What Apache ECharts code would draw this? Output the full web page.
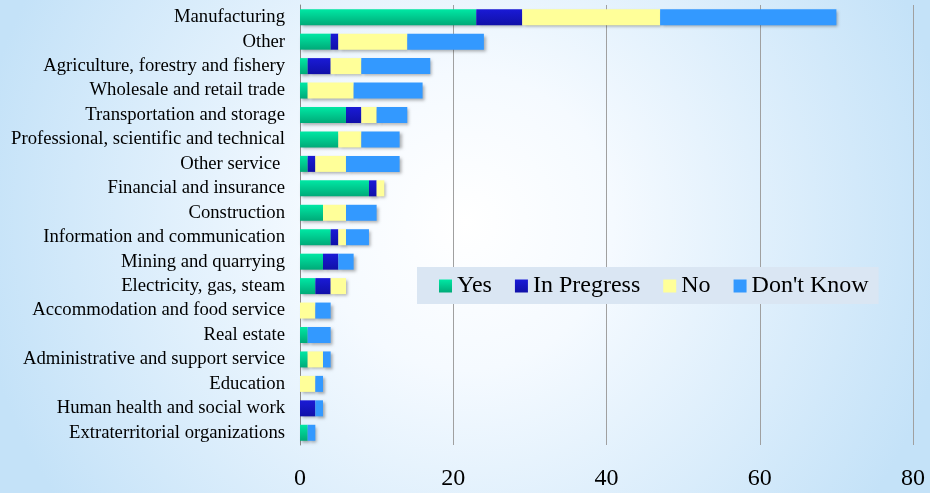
<!DOCTYPE html>
<html>
<head>
<meta charset="utf-8">
<script src="https://cdn.jsdelivr.net/npm/echarts@6/dist/echarts.min.js"></script>
<style>
  html, body { margin: 0; padding: 0; }
  #chart { width: 930px; height: 493px; }
</style>
</head>
<body>
<div id="chart"></div>
<script>
const categories = [
  'Manufacturing', 'Other', 'Agriculture, forestry and fishery', 'Wholesale and retail trade',
  'Transportation and storage', 'Professional, scientific and technical', 'Other service ',
  'Financial and insurance', 'Construction', 'Information and communication',
  'Mining and quarrying', 'Electricity, gas, steam', 'Accommodation and food service',
  'Real estate', 'Administrative and support service', 'Education',
  'Human health and social work', 'Extraterritorial organizations'
]
const yesData = [23, 4, 1, 1, 6, 5, 1, 9, 3, 4, 3, 2, 0, 1, 1, 0, 0, 1]
const inProgressData = [6, 1, 3, 0, 2, 0, 1, 1, 0, 1, 2, 2, 0, 0, 0, 0, 2, 0]
const noData = [18, 9, 4, 6, 2, 3, 4, 1, 3, 1, 0, 2, 2, 0, 2, 2, 0, 0]
const dontKnowData = [23, 10, 9, 9, 4, 5, 7, 0, 4, 3, 2, 0, 2, 3, 1, 1, 1, 1]

const font = '"Liberation Serif", "Times New Roman", serif'

function vgrad(top, bottom) {
  return new echarts.graphic.LinearGradient(0, 0, 0, 1, [
    { offset: 0, color: top },
    { offset: 1, color: bottom }
  ])
}

const seriesDefs = [
  { name: 'Yes', data: yesData, color: vgrad('#00e8a4', '#00aa78') },
  { name: 'In Pregress', data: inProgressData, color: vgrad('#1a1ad6', '#1010a8') },
  { name: 'No', data: noData, color: '#ffff99' },
  { name: "Don't Know", data: dontKnowData, color: '#3399ff' }
]

const chart = echarts.init(document.getElementById('chart'))
chart.setOption({
  backgroundColor: {
    type: 'radial',
    x: 0.5,
    y: 0.45,
    r: 1.0,
    colorStops: [
      { offset: 0, color: '#ffffff' },
      { offset: 0.3, color: '#f5faff' },
      { offset: 1, color: '#c4e2f8' }
    ]
  },
  animation: false,
  grid: {
    left: 300,
    right: 17,
    top: 5,
    bottom: 48
  },
  legend: {
    left: 417,
    top: 267,
    backgroundColor: '#dae6f3',
    padding: [7, 10, 6, 22],
    itemWidth: 13,
    itemHeight: 13,
    itemGap: 23,
    icon: 'rect',
    textStyle: {
      fontFamily: font,
      fontSize: 24,
      color: '#000'
    },
    data: seriesDefs.map(s => s.name)
  },
  xAxis: {
    type: 'value',
    min: 0,
    max: 80,
    interval: 20,
    axisLine: { show: false },
    axisTick: { show: false },
    splitLine: {
      lineStyle: { color: '#a0a0a0', width: 1 }
    },
    axisLabel: {
      margin: 22,
      fontFamily: font,
      fontSize: 24,
      color: '#000'
    }
  },
  yAxis: {
    type: 'category',
    inverse: true,
    data: categories,
    axisLine: {
      lineStyle: { color: '#888888' }
    },
    axisTick: { show: false },
    axisLabel: {
      interval: 0,
      margin: 15,
      fontFamily: font,
      fontSize: 18.7,
      color: '#000'
    }
  },
  series: seriesDefs.map(s => ({
    name: s.name,
    type: 'bar',
    stack: 'total',
    barWidth: 16,
    data: s.data,
    itemStyle: {
      color: s.color,
      shadowColor: 'rgba(0, 0, 0, 0.3)',
      shadowBlur: 3,
      shadowOffsetX: 2,
      shadowOffsetY: 2
    }
  }))
})
</script>
</body>
</html>
